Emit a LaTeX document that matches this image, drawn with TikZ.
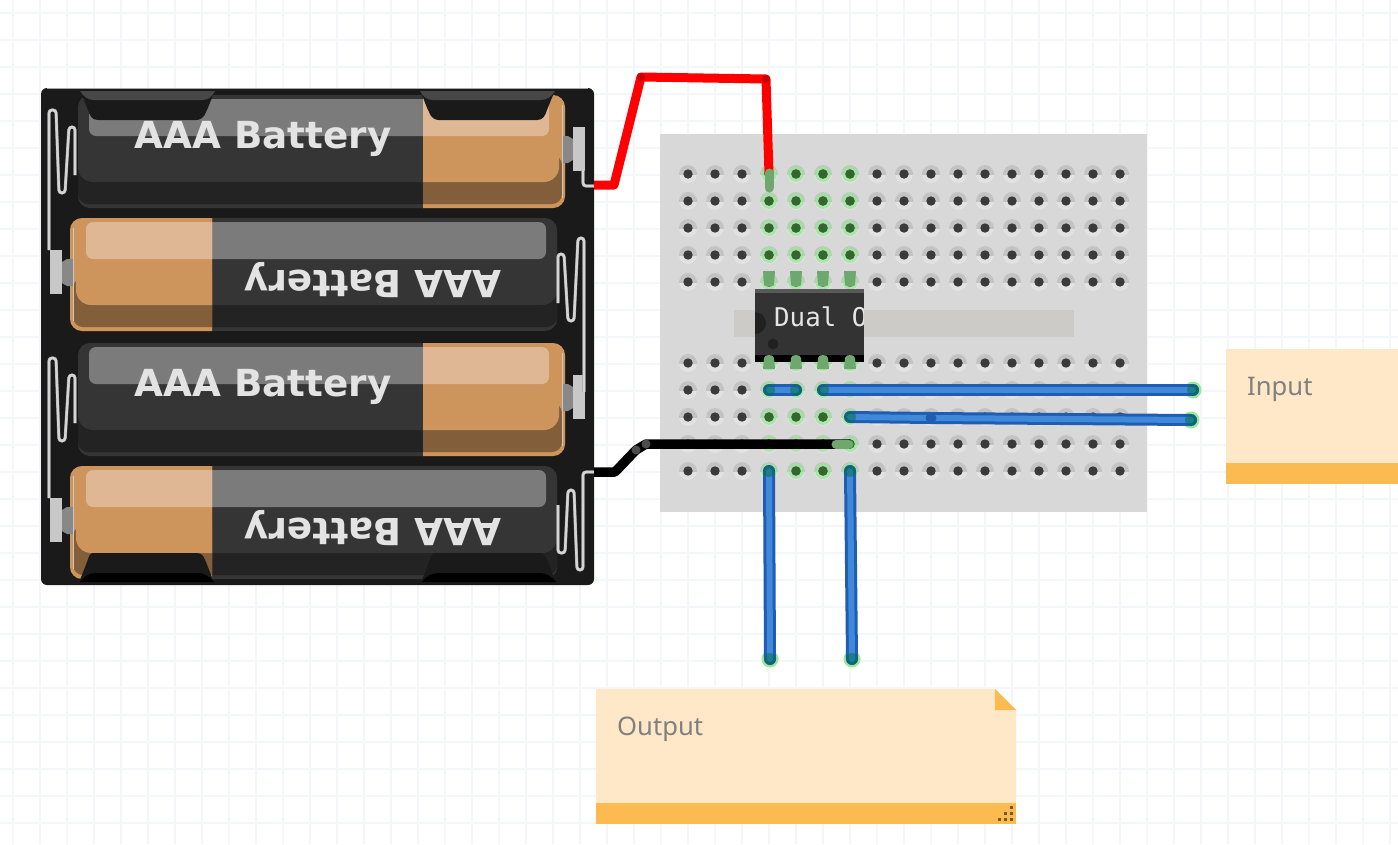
\documentclass[tikz,border=0pt]{standalone}
\usepackage{fontspec}
\setmainfont{Noto Sans}
\newfontfamily\battfont{DejaVu Sans}
\newfontfamily\chipfont{DejaVu Sans Mono}
\newfontfamily\notefont{Noto Sans}
\definecolor{gridc}{HTML}{F5F6F9}
\definecolor{packc}{HTML}{1A1A1A}
\definecolor{boardc}{HTML}{D8D8D8}
\definecolor{chanc}{HTML}{CDCBC8}
\definecolor{notec}{HTML}{FEE8C8}
\definecolor{noteb}{HTML}{FBBB50}
\definecolor{wireblue}{HTML}{1F5DB3}
\definecolor{wireblueb}{HTML}{3F88DA}
\definecolor{pingreen}{HTML}{6FA86F}
\definecolor{glow}{HTML}{9BE89B}
\definecolor{inng}{HTML}{35662F}
\definecolor{holed}{HTML}{3A3A3A}
\definecolor{holeup}{HTML}{C3C3C3}
\definecolor{holelo}{HTML}{E2E2E2}
\definecolor{battdk}{HTML}{353535}
\definecolor{battsh}{HTML}{232323}
\definecolor{batthi}{HTML}{7B7B7B}
\definecolor{copper}{HTML}{CD945B}
\definecolor{coppersh}{HTML}{835E3B}
\definecolor{copperhi}{HTML}{E0B794}
\definecolor{termnub}{HTML}{888888}
\definecolor{termlt}{HTML}{C8C8C8}
\newcommand{\battlayer}[3]{%
  \fill[#1, rounded corners=12pt] (0,0) rectangle (487,113);
  \fill[#2, rounded corners=10pt] (0,60) rectangle (484,109);
  \fill[#1, rounded corners=15pt] (0,0) rectangle (481,87);
  \fill[#3, rounded corners=7pt] (11,4) rectangle (471,41);
}
\newcommand{\battbody}{%
  \battlayer{battdk}{battsh}{batthi}
  \begin{scope}
    \clip (345,-2) rectangle (500,116);
    \battlayer{copper}{coppersh}{copperhi}
  \end{scope}
  \fill[termnub] (484,41) -- (490,41) -- (495,44) -- (495,65) -- (490,68) -- (484,68) -- cycle;
  \draw[line width=1pt, color=termlt] (484,10) -- (484,103);
  \fill[termlt] (495,32) rectangle (507,76);
}
\tikzset{
  spring/.style={draw=black!40, double=black!17, double distance=2.4pt, line width=.35pt, rounded corners=3pt},
  redwire/.style={draw=red, line width=9pt, line join=round},
  blackwire/.style={draw=black, line width=9.5pt, line join=round},
  bluewire/.style={draw=wireblue, double=wireblueb, double distance=6pt, line width=3pt, line cap=round, line join=round},
  greenend/.style={draw=pingreen, line width=9pt, line cap=round},
  battlabel/.style={font=\battfont\bfseries\fontsize{37.3}{40}\selectfont, text=black!11, inner sep=0pt, anchor=base},
  notelabel/.style={font=\notefont\fontsize{25.6}{30}\selectfont, text=black!50, inner sep=0pt, anchor=base west},
  noteface/.style={fill=notec},
  noteband/.style={fill=noteb},
}
\begin{document}
\begin{tikzpicture}[x=1pt,y=-1pt]
\useasboundingbox (0,0) rectangle (1398,844);
\fill[white] (0,0) rectangle (1398,844);
% grid
\foreach \k in {0,...,51} \draw[gridc, line width=1.4pt] ({13+27*\k},0) -- ({13+27*\k},844);
\foreach \k in {0,...,30} \draw[gridc, line width=1.4pt] (0,{13+27*\k}) -- (1398,{13+27*\k});

% breadboard
\fill[boardc] (660,134) rectangle (1147,512);
\fill[chanc] (734,310) rectangle (1074,337);
\foreach \c in {1,...,17} {
  \foreach \r/\yy in {1/174,2/201,3/228,4/255,5/282,6/363,7/390,8/417,9/444,10/471} {
    \coordinate (h\c-\r) at ({661+27*\c},\yy);
    \fill[holelo] (h\c-\r) circle[radius=9pt];
    \begin{scope}
      \clip ({661+27*\c-10},{\yy-10}) rectangle ({661+27*\c+10},\yy);
      \fill[holeup] (h\c-\r) circle[radius=9pt];
    \end{scope}
    \fill[holed] (h\c-\r) circle[radius=4.7pt];
  }
}
\foreach \c in {4,5,6,7} {
  \foreach \r in {1,2,3,4,5,6,7,8,9,10} {
    \fill[glow, opacity=.75] (h\c-\r) circle[radius=8pt];
    \fill[inng] (h\c-\r) circle[radius=4.8pt];
  }
}

% battery pack
\fill[packc, rounded corners=6pt] (41,88) rectangle (594,585);
\draw[black!35, line width=.7pt] (47,88.3) -- (588,88.3);
\begin{scope}[shift={(78,95)}]\battbody\end{scope}
\begin{scope}[shift={(557,218)},xscale=-1]\battbody\end{scope}
\begin{scope}[shift={(78,343)}]\battbody\end{scope}
\begin{scope}[shift={(557,466)},xscale=-1]\battbody\end{scope}

\node[battlabel] (label1) at (263,148) {AAA Battery};
\node[battlabel, rotate=180] (label2) at (373,270) {AAA Battery};
\node[battlabel] (label3) at (263,396) {AAA Battery};
\node[battlabel, rotate=180] (label4) at (373,518) {AAA Battery};

% clips
\foreach \dx/\m in {0/1,635/-1} {
  \begin{scope}[shift={(\dx,0)},xscale=\m]
    \fill[packc] (80,89) -- (215,89) -- (215,91) .. controls (212,96) and (210,104) .. (206,112) .. controls (204,118) and (200,120) .. (196,120) -- (98,120) .. controls (92,120) and (90,116) .. (88,110) -- (84,100) -- (80,91) -- cycle;
    \fill[black!72] (80,91) -- (215,91) .. controls (212,97) and (208,100) .. (202,100) -- (94,100) .. controls (88,100) and (84,97) .. (80,91) -- cycle;
  \end{scope}
}
\foreach \dx in {0,342} {
  \begin{scope}[shift={(\dx,0)}]
    \fill[packc] (93,553) -- (197,553) .. controls (203,553) and (204,558) .. (206,562) -- (213,580) -- (80,580) -- (87,562) .. controls (89,556) and (90,553) .. (93,553) -- cycle;
    \fill[black] (80,582) .. controls (84,576) and (90,573) .. (97,573) -- (197,573) .. controls (205,573) and (210,577) .. (214,582) -- cycle;
  \end{scope}
}

% springs and contact wires
\draw[spring] (49,250) -- (49,110) -- (56,110) -- (59,193) -- (65,193) -- (69,127) -- (75,127) -- (75,175);
\draw[spring] (49,498) -- (49,358) -- (56,358) -- (59,441) -- (65,441) -- (69,375) -- (75,375) -- (75,423);
\draw[spring] (584,392) -- (584,238) -- (578,238) -- (574,321) -- (568,321) -- (564,254) -- (558,254) -- (558,303);
\draw[spring] (594,472) -- (583,472) -- (583,570) -- (577,570) -- (574,490) -- (568,490) -- (565,553) -- (558,553) -- (558,505);
\draw[spring] (583,170) -- (583,186) -- (594,186);

% named wire ends
\coordinate (redA) at (594,185);
\coordinate (redB) at (614,185);
\coordinate (redC) at (641,77);
\coordinate (redD) at (766,79);
\coordinate (blkA) at (594,472);
\coordinate (blkB) at (615,472);
\coordinate (blkC) at (636,450);
\coordinate (blkD) at (646,444);
\coordinate (inA) at (1193,390);
\coordinate (inB) at (1191,420);
\coordinate (inBend) at (931,418);
\coordinate (outA) at (770,659);
\coordinate (outB) at (852,659);

% chip
\fill[black!80] (755,289) rectangle (864,362);
\fill[black!65] (755,289) rectangle (864,293);
\fill[black] (755,355) rectangle (864,362);
\begin{scope}
  \clip (755,289) rectangle (863,362);
  \fill[black!87] (755,323) circle[radius=11pt];
  \fill[black!87] (773,344) circle[radius=5.5pt];
  \node[font=\chipfont\fontsize{25.8}{28}\selectfont, text=black!10, inner sep=0pt, anchor=base west] (chiplabel) at (774,326) {Dual O};
\end{scope}
\foreach \c in {4,5,6,7} {
  \fill[pingreen] ([xshift=-5pt,yshift=-3pt]h\c-5) .. controls ([xshift=-5pt,yshift=-5pt]h\c-5) and ([xshift=5pt,yshift=-5pt]h\c-5) .. ([xshift=5pt,yshift=-3pt]h\c-5) -- ([xshift=6pt,yshift=11pt]h\c-5) -- ([xshift=-6pt,yshift=11pt]h\c-5) -- cycle;
  \fill[pingreen] ([xshift=-6pt,yshift=-6pt]h\c-6) -- ([xshift=6pt,yshift=-6pt]h\c-6) -- ([xshift=5pt,yshift=5pt]h\c-6) .. controls ([xshift=5pt,yshift=9pt]h\c-6) and ([xshift=-5pt,yshift=9pt]h\c-6) .. ([xshift=-5pt,yshift=5pt]h\c-6) -- cycle;
}

% wires
\draw[redwire] (redA) -- (redB) -- (redC) -- (redD) -- (h4-1);
\fill[red!80!black] (redC) circle[radius=4.2pt];
\fill[red!80!black] (redD) circle[radius=4.2pt];
\draw[greenend] ([yshift=-14pt]h4-1) -- ([yshift=1pt]h4-1);

\draw[blackwire] (blkA) -- (blkB) -- (blkC) -- (blkD) -- (h7-9);
\fill[black!70] (blkC) circle[radius=4.5pt];
\fill[black!70] (blkD) circle[radius=4.5pt];
\draw[greenend] ([xshift=-14pt]h7-9) -- ([xshift=-1pt]h7-9);

\foreach \e in {inA,inB,outA,outB} \fill[glow] (\e) circle[radius=8.5pt];
\draw[bluewire] (h4-7) -- (h5-7);
\draw[bluewire] (h6-7) -- (inA);
\draw[bluewire] (h7-8) -- (inBend) -- (inB);
\draw[bluewire] (h4-10) -- (outA);
\draw[bluewire] (h7-10) -- (outB);
\fill[wireblue] (inBend) circle[radius=5.5pt];
\foreach \e in {h4-7,h5-7,h6-7,h7-8,h4-10,h7-10,inA,inB,outA,outB} \fill[teal!75!green!70!black, opacity=.5] (\e) circle[radius=6pt];

% notes
\fill[noteface] (1226,349) rectangle (1398,463);
\fill[noteband] (1226,463) rectangle (1398,484);
\node[notelabel] (input) at (1247,395) {Input};

\fill[noteface] (596,689) -- (995,689) -- (1016,710) -- (1016,803) -- (596,803) -- cycle;
\fill[noteband] (596,803) rectangle (1016,824);
\fill[noteband] (995,689) -- (1016,710) -- (995,710) -- cycle;
\node[notelabel] (output) at (617,735) {Output};
\foreach \px/\py in {1011.5/807.5,1005.5/813.5,1011.5/813.5,999.5/819.5,1005.5/819.5,1011.5/819.5}
  \fill[black!40!noteb!80!black] ({\px-1.5},{\py-1.5}) rectangle ({\px+1.5},{\py+1.5});
\end{tikzpicture}
\end{document}
